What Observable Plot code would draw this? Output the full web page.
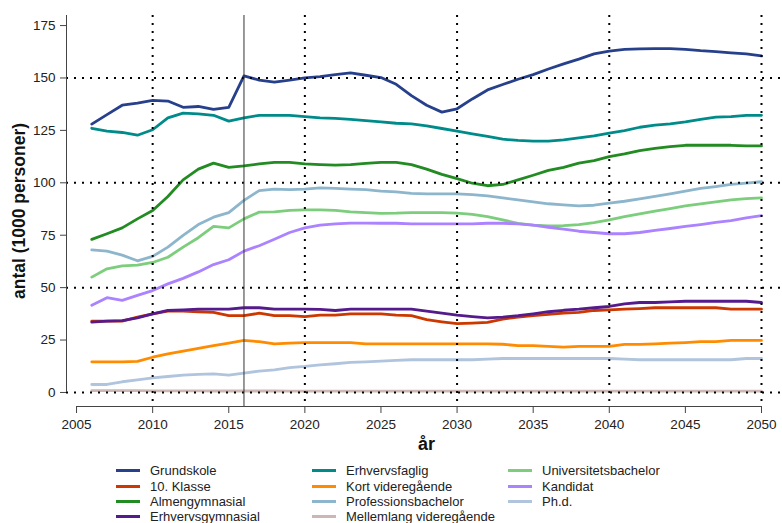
<!DOCTYPE html>
<html>
<head>
<meta charset="utf-8">
<script src="https://cdn.jsdelivr.net/npm/d3@7"></script>
<script src="https://cdn.jsdelivr.net/npm/@observablehq/plot@0.6"></script>
<style>
  html, body { margin: 0; padding: 0; background: #fff; }
  body { font-family: "Liberation Sans", Arial, sans-serif; width: 782px; height: 523px; overflow: hidden; }
  #wrap { position: relative; width: 782px; height: 523px; }
  #legend { position: absolute; left: 0; top: 458px; width: 782px; height: 65px; }
  .item { position: absolute; height: 16px; display: flex; align-items: center; font-size: 13px; color: #222; white-space: nowrap; }
  .sw { width: 24px; height: 3px; margin-right: 10px; }
</style>
</head>
<body>
<div id="wrap"><div id="chart"></div><div id="legend"></div></div>
<script>
const years = [2006,2007,2008,2009,2010,2011,2012,2013,2014,2015,
  2016,2017,2018,2019,2020,2021,2022,2023,2024,2025,
  2026,2027,2028,2029,2030,2031,2032,2033,2034,2035,
  2036,2037,2038,2039,2040,2041,2042,2043,2044,2045,
  2046,2047,2048,2049,2050];

const names = ["Grundskole","10. Klasse","Almengymnasial","Erhvervsgymnasial",
  "Erhvervsfaglig","Kort videregående","Professionsbachelor","Mellemlang videregående",
  "Universitetsbachelor","Kandidat","Ph.d."];
const colors = ["#27408B","#CD3700","#228B22","#551A8B",
  "#008B8B","#FF8C00","#8DB6CD","#CDB7B5",
  "#7CCD7C","#AB82FF","#B0C4DE"];

const grundskole = [128,132.5,137,138,139.3,139,136,136.4,135,136,
  151,149,148,149,150,150.6,151.6,152.4,151.3,150.2,
  147,141.6,137,133.7,135.3,140,144.3,146.9,149.4,151.6,
  154.3,156.7,159,161.5,162.8,163.6,163.9,164,164,163.6,
  163,162.6,162,161.5,160.5];
const klasse10 = [34,34,34,35.9,37.5,38.8,38.8,38.5,38.2,36.6,
  36.6,37.8,36.6,36.6,36.2,36.9,36.9,37.5,37.5,37.5,
  36.9,36.6,34.7,33.7,32.8,33.1,33.4,35,35.9,36.6,
  37.2,37.8,38.2,39.1,39.4,39.7,40,40.4,40.4,40.4,
  40.4,40.4,39.7,39.7,39.7];
const almengym = [73,75.7,78.5,82.8,86.8,93.5,101.4,106.5,109.4,107.4,
  108.1,109,109.7,109.7,109,108.7,108.4,108.7,109.3,109.7,
  109.7,108.7,106.5,104,102,99.8,98.6,99.2,101.4,103.6,
  105.9,107.4,109.4,110.6,112.5,113.8,115.4,116.4,117.3,117.9,
  117.9,117.9,117.9,117.6,117.6];
const erhvgym = [33.5,34,34.3,35.6,37.5,39.1,39.4,39.7,39.7,39.7,
  40.4,40.4,39.7,39.7,39.7,39.6,39.1,39.7,39.7,39.7,
  39.7,39.7,38.8,37.8,36.9,36.2,35.6,35.9,36.6,37.5,
  38.5,39.2,39.7,40.4,41,42.3,42.9,42.9,43.2,43.5,
  43.5,43.5,43.5,43.5,42.9];
const erhvfag = [126,124.6,124,122.7,125.3,131,133.2,132.9,132.2,129.4,
  131,132.2,132.2,132.2,131.6,131,130.7,130.3,129.7,129.1,
  128.4,128.1,127.2,125.9,124.6,123.3,122.1,120.8,120.2,119.9,
  119.9,120.5,121.4,122.4,123.7,124.9,126.5,127.5,128.1,129.1,
  130.3,131.3,131.6,132.2,132.2];
const kortvid = [14.6,14.6,14.6,14.8,16.8,18.4,19.7,21,22.3,23.5,
  24.8,24.2,23.2,23.5,23.8,23.8,23.8,23.8,23.2,23.2,
  23.2,23.2,23.2,23.2,23.2,23.2,23.2,23,22.3,22.3,
  22,21.6,22,22,22,22.9,22.9,23.2,23.5,23.8,
  24.2,24.2,24.8,24.8,24.8];
const profbach = [68,67.4,65.5,62.8,64.9,69.3,74.9,80.1,83.6,85.8,
  91.6,96.3,97,96.7,97,97.6,97.3,97,96.7,96,
  95.7,95,94.7,94.7,94.7,94.4,93.8,92.8,91.9,90.9,
  90,89.5,89,89.3,90.3,91.2,92.3,93.5,94.7,96,
  97.3,98.2,99.2,99.8,100.5];
const mellemlang = [0.9,0.9,0.9,0.9,0.8,0.8,0.8,0.8,0.7,0.7,
  0.7,0.7,0.7,0.6,0.6,0.6,0.6,0.6,0.6,0.6,
  0.6,0.6,0.6,0.6,0.6,0.6,0.6,0.6,0.6,0.6,
  0.6,0.6,0.6,0.6,0.6,0.6,0.6,0.6,0.6,0.6,
  0.6,0.6,0.6,0.6,0.6];
const unibach = [55,59,60.4,60.7,62,64.5,69.3,73.8,79.2,78.5,
  82.8,86,86.1,86.8,87.1,87.1,86.8,86.1,85.8,85.4,
  85.5,85.8,85.8,85.8,85.5,84.9,83.9,82.3,80.7,79.8,
  79.4,79.6,80.1,81,82.3,83.9,85.2,86.5,87.7,89,
  90,90.9,91.9,92.5,92.8];
const kandidat = [41.6,45.2,43.9,46.3,48.6,51.8,54.4,57.5,61,63.3,
  67.4,70,73.1,76.3,78.5,79.8,80.4,80.8,80.8,80.7,
  80.7,80.4,80.4,80.4,80.4,80.4,80.7,80.7,80.4,79.8,
  78.8,77.9,76.9,76.3,75.7,75.7,76.3,77.3,78.2,79.2,
  80.1,81.1,82,83.3,84.3];
const phd = [3.8,3.8,5.1,6,7,7.6,8.3,8.6,8.9,8.3,
  9.2,10.2,10.8,11.8,12.4,13.2,13.7,14.3,14.6,14.9,
  15.3,15.6,15.6,15.6,15.6,15.6,15.9,16.2,16.2,16.2,
  16.2,16.2,16.2,16.2,16.2,15.9,15.6,15.6,15.6,15.6,
  15.6,15.6,15.6,16.2,16.2];

const seriesValues = [grundskole, klasse10, almengym, erhvgym, erhvfag, kortvid,
  profbach, mellemlang, unibach, kandidat, phd];

const xTicks = [2005,2010,2015,2020,2025,2030,2035,2040,2045,2050];
const yTicks = [0,25,50,75,100,125,150,175];
const xGrid = [2010,2020,2030,2040,2050];
const yGrid = [0,50,100,150];
const markerYear = [2016];

const xDomain = [2004.34, 2051.38];
const yDomain = [-6.7, 179.8];

const rows = [];
names.forEach((n, i) => {
  seriesValues[i].forEach((v, j) => rows.push({series: n, year: years[j], value: v}));
});

const chart = Plot.plot({
  width: 782,
  height: 458,
  marginLeft: 66,
  marginRight: 0,
  marginTop: 15,
  marginBottom: 52,
  style: {fontFamily: '"Liberation Sans", Arial, sans-serif', background: "#fff", color: "#222"},
  x: {domain: xDomain},
  y: {domain: yDomain},
  color: {domain: names, range: colors},
  marks: [
    Plot.line(rows, {x: "year", y: "value", z: "series", stroke: "series",
      strokeWidth: 2.8, strokeLinecap: "round", strokeLinejoin: "round"}),
    Plot.ruleY(yGrid, {stroke: "#000", strokeWidth: 2, strokeDasharray: "2,6"}),
    Plot.ruleX(xGrid, {stroke: "#000", strokeWidth: 2, strokeDasharray: "2,6"}),
    Plot.ruleX(markerYear, {stroke: "#333", strokeWidth: 1}),
    Plot.ruleX([xDomain[0]], {y1: yTicks[0], y2: yDomain[1], stroke: "#444", strokeWidth: 1}),
    Plot.ruleY([yDomain[0]], {x1: xTicks[0], x2: xTicks[xTicks.length - 1], stroke: "#444", strokeWidth: 1}),
    Plot.axisX({ticks: xTicks, tickSize: 7, tickPadding: 6, tickFormat: d => String(d),
      fontSize: 13.5, label: null, stroke: "#444"}),
    Plot.axisY({ticks: yTicks, tickSize: 6, tickPadding: 5, tickFormat: d => String(d),
      fontSize: 13.5, label: null, stroke: "#444"}),
    Plot.text(["år"], {frameAnchor: "bottom", lineAnchor: "middle", textAnchor: "middle",
      dx: 2, dy: 38, fontSize: 18, fontWeight: "bold", fill: "#111"}),
    Plot.text(["antal (1000 personer)"], {frameAnchor: "left", textAnchor: "middle", lineAnchor: "middle",
      dx: -47, rotate: -90, fontSize: 17.5, fontWeight: "bold", fill: "#111"})
  ]
});
document.getElementById("chart").appendChild(chart);

// legend (3 columns, column-major)
const legend = document.getElementById("legend");
const colLeft = [116, 312, 508];
const rowTop = [4, 20, 35, 50];
names.forEach((n, i) => {
  const c = Math.floor(i / 4), r = i % 4;
  const item = document.createElement("div");
  item.className = "item";
  item.style.left = colLeft[c] + "px";
  item.style.top = rowTop[r] + "px";
  const sw = document.createElement("span");
  sw.className = "sw";
  sw.style.background = colors[i];
  const t = document.createElement("span");
  t.textContent = n;
  item.appendChild(sw);
  item.appendChild(t);
  legend.appendChild(item);
});
</script>
</body>
</html>
